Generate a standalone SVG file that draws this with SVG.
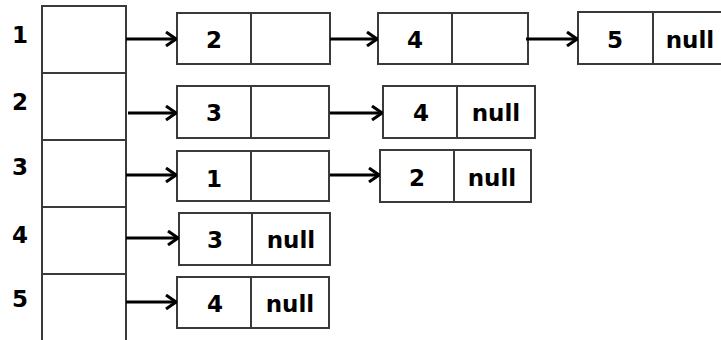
<svg xmlns="http://www.w3.org/2000/svg" width="721" height="340" viewBox="0 0 721 340">
<style>
.box{fill:#fff;stroke:#3a3a3a;stroke-width:2}
.div{stroke:#3a3a3a;stroke-width:2}
.t{font-family:"DejaVu Sans","Liberation Sans",sans-serif;font-weight:bold;font-size:23px;fill:#000;text-anchor:middle}
.arr{stroke:#000;stroke-width:3;fill:none}
</style>
<defs>
<marker id="ah" viewBox="0 0 12 16" refX="11" refY="8" markerWidth="12" markerHeight="16" markerUnits="userSpaceOnUse" orient="auto">
<path d="M1,1 L11,8 L1,15" fill="none" stroke="#000" stroke-width="3"/>
</marker>
</defs>
<rect width="721" height="340" fill="#fff"/>
<g id="array">
<rect class="box" x="42" y="6" width="84" height="340"/>
<line class="div" x1="42" y1="73" x2="126" y2="73"/>
<line class="div" x1="42" y1="140" x2="126" y2="140"/>
<line class="div" x1="42" y1="207" x2="126" y2="207"/>
<line class="div" x1="42" y1="274" x2="126" y2="274"/>
<text class="t" x="20" y="43">1</text>
<text class="t" x="20" y="110">2</text>
<text class="t" x="20" y="175">3</text>
<text class="t" x="20" y="243">4</text>
<text class="t" x="20" y="307">5</text>
</g>
<g id="n1a"><rect class="box" x="177" y="13" width="153" height="51"/><line class="div" x1="251" y1="13" x2="251" y2="64"/><text class="t" x="214" y="48">2</text></g>
<g id="n1b"><rect class="box" x="378" y="13" width="150" height="51"/><line class="div" x1="452" y1="13" x2="452" y2="64"/><text class="t" x="415" y="48">4</text></g>
<g id="n1c"><rect class="box" x="578" y="12" width="150" height="52"/><line class="div" x1="653" y1="12" x2="653" y2="64"/><text class="t" x="615" y="48">5</text><text class="t" x="690" y="48">null</text></g>
<g id="n2a"><rect class="box" x="177" y="86" width="152" height="52"/><line class="div" x1="251" y1="86" x2="251" y2="138"/><text class="t" x="214" y="121">3</text></g>
<g id="n2b"><rect class="box" x="383" y="86" width="152" height="52"/><line class="div" x1="457" y1="86" x2="457" y2="138"/><text class="t" x="421" y="121">4</text><text class="t" x="496" y="121">null</text></g>
<g id="n3a"><rect class="box" x="177" y="151" width="152" height="50"/><line class="div" x1="251" y1="151" x2="251" y2="201"/><text class="t" x="214" y="187">1</text></g>
<g id="n3b"><rect class="box" x="380" y="150" width="151" height="52"/><line class="div" x1="454" y1="150" x2="454" y2="202"/><text class="t" x="417" y="186">2</text><text class="t" x="492" y="186">null</text></g>
<g id="n4a"><rect class="box" x="179" y="213" width="151" height="52"/><line class="div" x1="252" y1="213" x2="252" y2="265"/><text class="t" x="215" y="248">3</text><text class="t" x="291" y="248">null</text></g>
<g id="n5a"><rect class="box" x="177" y="277" width="152" height="51"/><line class="div" x1="251" y1="277" x2="251" y2="328"/><text class="t" x="215" y="312">4</text><text class="t" x="290" y="312">null</text></g>
<g id="connectors">
<line class="arr" x1="126" y1="39" x2="176" y2="39" marker-end="url(#ah)"/>
<line class="arr" x1="330" y1="39" x2="377" y2="39" marker-end="url(#ah)"/>
<line class="arr" x1="526" y1="39" x2="577" y2="39" marker-end="url(#ah)"/>
<line class="arr" x1="128" y1="113" x2="176" y2="113" marker-end="url(#ah)"/>
<line class="arr" x1="330" y1="113" x2="382" y2="113" marker-end="url(#ah)"/>
<line class="arr" x1="126" y1="175" x2="176" y2="175" marker-end="url(#ah)"/>
<line class="arr" x1="330" y1="175" x2="379" y2="175" marker-end="url(#ah)"/>
<line class="arr" x1="126" y1="238" x2="178" y2="238" marker-end="url(#ah)"/>
<line class="arr" x1="126" y1="302" x2="176" y2="302" marker-end="url(#ah)"/>
</g>
</svg>
